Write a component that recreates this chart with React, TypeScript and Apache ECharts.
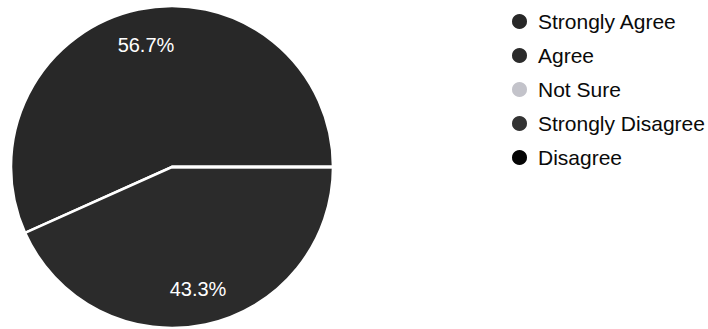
import React, { useEffect, useRef } from "react";
import * as echarts from "echarts";

const categories = ["Strongly Agree", "Agree", "Not Sure", "Strongly Disagree", "Disagree"];
const percentValues = [56.7, 43.3, 0, 0, 0];
const sliceColors = ["#282828", "#2b2b2b", "#c3c3ca", "#333333", "#050505"];

export default function App() {
  const ref = useRef<HTMLDivElement>(null);
  useEffect(() => {
    if (!ref.current) return;
    const chart = echarts.init(ref.current, null, { renderer: "svg" });
    const data = categories.map((name, i) => ({
      name,
      value: percentValues[i],
      itemStyle: { color: sliceColors[i] },
    }));
    const labelData = categories.map((name, i) => ({
      name,
      value: percentValues[i],
      itemStyle: { color: "rgba(0,0,0,0)" },
    }));
    chart.setOption({
      animation: false,
      backgroundColor: "#ffffff",
      legend: {
        orient: "vertical",
        left: 505,
        top: 6,
        icon: "circle",
        itemWidth: 17,
        itemHeight: 17,
        itemGap: 13,
        selectedMode: false,
        data: categories,
        textStyle: {
          fontFamily: "Liberation Sans, Arial, sans-serif",
          fontSize: 21,
          color: "#0a0a0a",
          lineHeight: 21,
          padding: [0, 0, 0, 5],
        },
      },
      series: [
        {
          type: "pie",
          center: [172, 167],
          radius: [0, 161],
          startAngle: 0,
          clockwise: false,
          silent: true,
          label: { show: false },
          labelLine: { show: false },
          itemStyle: { borderColor: "#ffffff", borderWidth: 2.5 },
          data,
        },
        {
          type: "pie",
          center: [172, 167],
          radius: [101, 142],
          startAngle: 0,
          clockwise: false,
          silent: true,
          legendHoverLink: false,
          labelLine: { show: false },
          label: {
            show: true,
            position: "inside",
            color: "#ffffff",
            fontFamily: "Liberation Sans, Arial, sans-serif",
            fontSize: 20,
            formatter: (p: any) => (p.value > 0 ? p.value.toFixed(1) + "%" : ""),
          },
          itemStyle: { borderWidth: 0 },
          data: labelData,
        },
      ],
    });
    return () => chart.dispose();
  }, []);
  return (
    <div
      ref={ref}
      style={{ position: "fixed", left: 0, top: 0, width: 708, height: 329 }}
    />
  );
}
